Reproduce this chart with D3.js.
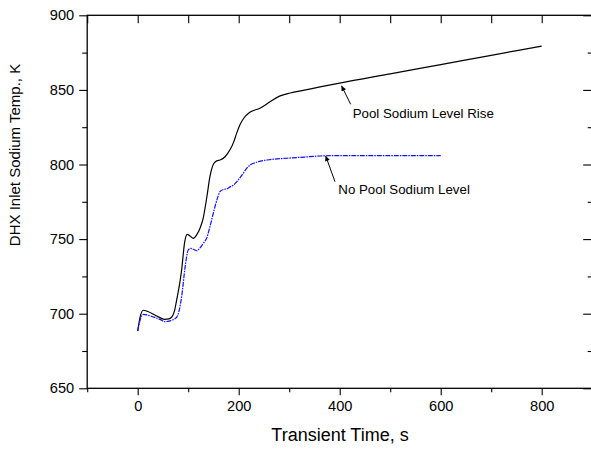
<!DOCTYPE html>
<html><head><meta charset="utf-8">
<script src="https://cdn.jsdelivr.net/npm/d3@7"></script>
<style>body{margin:0;background:#fff}svg{display:block}text{font-family:Arial,"Liberation Sans",sans-serif}</style>
</head><body>
<svg id="c" width="591" height="450"></svg>
<script>
const blackTime = [0,5,11,20,34,45,53,62,68,73,77,82,87,93,98,104,110,117,123,129,137,143,151,157,163,173,183,190,196,203,210,222,242,262,282,302,330,361,400,500,600,700,800];
const blackTemp = [688.4,698,702.3,701.5,699.1,697.2,696.2,696.5,698,702,709,718,729.3,748,753.2,752,750.5,753,757,763,778.4,791.8,800.8,802.5,803,805.2,810,815,821,827,831,835,837.7,842,846,847.9,849.8,852,854.6,860.8,867,873.2,879.4];
const blueTime = [0,5,11,20,34,45,54,62,70,77,82,87,94,100,105,111,117,123,130,137,142,148,153,158,163,170,176,183,190,200,209,216,223,231,239,260,295,330,361,400,500,600];
const blueTemp = [688.4,696,699.6,699,697.5,696,694.6,695,696,697.5,702,711.4,731.5,742.7,743.8,743,742.2,744,747.2,751,757,765,771.7,777.5,781.8,783.3,783.6,785,786.3,790,794.1,797.5,799.7,801,801.9,803.2,804.2,805,805.7,806,806,806];
const xTicks = [0,200,400,600,800];
const yTicks = [650,700,750,800,850,900];
const seriesNames = ["Pool Sodium Level Rise","No Pool Sodium Level"];
const xTitle = "Transient Time, s";
const yTitle = "DHX Inlet Sodium Temp., K";

const svg = d3.select("#c");
const x = d3.scaleLinear().domain([-100,900]).range([87.2,592.2]);
const y = d3.scaleLinear().domain([650,900]).range([388.3,15.3]);
const minorX = d3.range(-100,901,100).filter(v=>!xTicks.includes(v));
const minorY = d3.range(650,901,25).filter(v=>!yTicks.includes(v));

function styleAxis(g){ g.select(".domain").remove(); g.selectAll(".tick line").attr("stroke","#000").attr("stroke-width",1.1);
  g.selectAll("text").attr("fill","#000").style("font-size","14.6px"); }

// bottom
svg.append("g").attr("transform",`translate(0,${y(650)})`)
  .call(d3.axisBottom(x).tickValues(xTicks).tickSize(7).tickPadding(5).tickFormat(d3.format("d"))).call(styleAxis);
svg.append("g").attr("transform",`translate(0,${y(650)})`)
  .call(d3.axisBottom(x).tickValues(minorX).tickSize(4).tickFormat("")).call(styleAxis);
// top (inward)
svg.append("g").attr("transform",`translate(0,${y(900)})`)
  .call(d3.axisBottom(x).tickValues(d3.range(-100,901,100)).tickSize(8).tickFormat("")).call(styleAxis);
// left
svg.append("g").attr("transform",`translate(${x(-100)},0)`)
  .call(d3.axisLeft(y).tickValues(yTicks).tickSize(8).tickPadding(5).tickFormat(d3.format("d"))).call(styleAxis);
svg.append("g").attr("transform",`translate(${x(-100)},0)`)
  .call(d3.axisLeft(y).tickValues(minorY).tickSize(5).tickFormat("")).call(styleAxis);
// right (inward)
svg.append("g").attr("transform",`translate(${x(900)},0)`)
  .call(d3.axisRight(y).tickValues(yTicks).tickSize(-9).tickFormat("")).call(styleAxis);
svg.append("g").attr("transform",`translate(${x(900)},0)`)
  .call(d3.axisRight(y).tickValues(minorY).tickSize(-4.5).tickFormat("")).call(styleAxis);

// frame
svg.append("rect").attr("x",x(-100)).attr("y",y(900)).attr("width",x(900)-x(-100)).attr("height",y(650)-y(900))
  .attr("fill","none").attr("stroke","#000").attr("stroke-width",1.3);

// lines
const line = d3.line().curve(d3.curveMonotoneX);
svg.append("path").attr("d",line(blackTime.map((t,i)=>[x(t),y(blackTemp[i])])))
  .attr("fill","none").attr("stroke","#000").attr("stroke-width",1.2);
svg.append("path").attr("d",line(blueTime.map((t,i)=>[x(t),y(blueTemp[i])])))
  .attr("fill","none").attr("stroke","#1010ff").attr("stroke-width",1.2).attr("stroke-dasharray","5,1,1.5,1");

// annotations
const defs = svg.append("defs");
defs.append("marker").attr("id","ah").attr("viewBox","0 0 10 10").attr("refX",10).attr("refY",5)
  .attr("markerWidth",7).attr("markerHeight",5).attr("markerUnits","userSpaceOnUse").attr("orient","auto")
  .append("path").attr("d","M0,0L10,5L0,10z").attr("fill","#000");
function arrow(x1,y1,x2,y2){ svg.append("line").attr("x1",x1).attr("y1",y1).attr("x2",x2).attr("y2",y2)
  .attr("stroke","#000").attr("stroke-width",1).attr("marker-end","url(#ah)"); }
arrow(350.7,104.3,341.5,85.8);
arrow(335,181.7,325.7,156);
svg.append("text").attr("x",352.7).attr("y",118.3).style("font-size","13.3px").attr("fill","#000").text(seriesNames[0]);
svg.append("text").attr("x",338.3).attr("y",194).style("font-size","13.3px").attr("fill","#000").text(seriesNames[1]);

// titles
svg.append("text").attr("x",340).attr("y",441).attr("text-anchor","middle").style("font-size","18px").attr("fill","#000").text(xTitle);
svg.append("text").attr("transform","translate(20.3,155) rotate(-90)").attr("text-anchor","middle").style("font-size","15px").attr("fill","#000").text(yTitle);
</script>
</body></html>
